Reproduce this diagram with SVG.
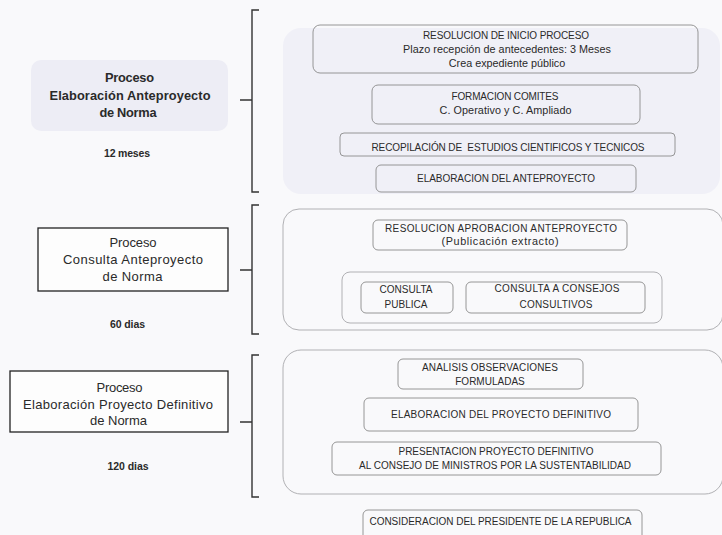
<svg xmlns="http://www.w3.org/2000/svg" width="722" height="535" viewBox="0 0 722 535">
<style>
text{font-family:"Liberation Sans",Arial,sans-serif;fill:#2a2a2a;text-anchor:middle}
.b{font-size:10px}
.m{font-size:10.8px}
.t{font-size:13px}
.tb{font-size:12.8px;font-weight:bold}
.d{font-size:10.5px;font-weight:bold}
.box{fill:none;stroke:#8a8a8a;stroke-width:0.9}
.cont{fill:none;stroke:#a8a8ac;stroke-width:0.9}
.dark{fill:#fdfdfd;stroke:#222;stroke-width:1.3}
.br{fill:none;stroke:#333;stroke-width:1.4}
</style>
<rect width="722" height="535" fill="#f9f9fb"/>
<rect x="283" y="28" width="437" height="166" rx="18" fill="#f0f0f7"/>
<g id="process1">
<rect x="31" y="60" width="197" height="71" rx="10" fill="#ededf5"/>
<text class="tb" x="129.5" y="82" textLength="49">Proceso</text>
<text class="tb" x="130" y="99.5" textLength="161">Elaboración Anteproyecto</text>
<text class="tb" x="128" y="116.5" textLength="57">de Norma</text>
<text class="d" x="127" y="157" textLength="46">12 meses</text>
</g>
<g id="process2">
<rect class="dark" x="38" y="228" width="190" height="63"/>
<text class="t" x="133" y="247" textLength="47">Proceso</text>
<text class="t" x="133" y="264" textLength="140">Consulta Anteproyecto</text>
<text class="t" x="132.5" y="281" textLength="60">de Norma</text>
<text class="d" x="127.5" y="328" textLength="35">60 dias</text>
</g>
<g id="process3">
<rect class="dark" x="10" y="371" width="218" height="61"/>
<text class="t" x="119.5" y="392" textLength="46">Proceso</text>
<text class="t" x="118" y="408.5" textLength="190">Elaboración Proyecto Definitivo</text>
<text class="t" x="118.5" y="425" textLength="57">de Norma</text>
<text class="d" x="128" y="470" textLength="41">120 dias</text>
</g>
<g id="connectors">
<path class="br" d="M259 10 H252 V192 H259 M240 100 H252"/>
<path class="br" d="M259 205 H252 V334 H259 M240 270 H252"/>
<path class="br" d="M259 355 H252 V497 H259 M240 422 H252"/>
</g>
<g id="group2">
<rect class="cont" x="283" y="209" width="440" height="121" rx="16"/>
<rect class="cont" x="342" y="272" width="320" height="51" rx="8"/>
</g>
<g id="group3">
<rect class="cont" x="283" y="350" width="440" height="144" rx="18"/>
</g>
<g id="n1">
<rect class="box" x="313" y="25" width="385" height="48" rx="7"/>
<text class="b" x="506" y="39" textLength="166">RESOLUCION DE INICIO PROCESO</text>
<text class="m" x="507" y="53" textLength="208">Plazo recepción de antecedentes: 3 Meses</text>
<text class="m" x="507" y="67">Crea expediente público</text>
</g>
<g id="n2">
<rect class="box" x="372" y="85" width="268" height="39" rx="6"/>
<text class="b" x="505" y="100" textLength="107">FORMACION COMITES</text>
<text class="m" x="505.5" y="113.5" textLength="132">C. Operativo y C. Ampliado</text>
</g>
<g id="n3">
<rect class="box" x="340" y="133" width="335" height="23" rx="4"/>
<text class="b" x="508" y="150.5" textLength="273" xml:space="preserve">RECOPILACIÓN DE  ESTUDIOS CIENTIFICOS Y TECNICOS</text>
</g>
<g id="n4">
<rect class="box" x="376" y="165" width="260" height="27" rx="5"/>
<text class="b" x="506" y="181.5" textLength="178">ELABORACION DEL ANTEPROYECTO</text>
</g>
<g id="n5">
<rect class="box" x="373" y="220" width="254" height="30" rx="5"/>
<text class="b" x="501" y="231.5" textLength="232">RESOLUCION APROBACION ANTEPROYECTO</text>
<text class="m" x="500" y="245" textLength="117">(Publicación extracto)</text>
</g>
<g id="n6">
<rect class="box" x="361" y="282" width="92" height="31" rx="5"/>
<text class="b" x="406" y="293">CONSULTA</text>
<text class="b" x="406" y="308">PUBLICA</text>
</g>
<g id="n7">
<rect class="box" x="466" y="282" width="179" height="31" rx="5"/>
<text class="b" x="557" y="292" textLength="125">CONSULTA A CONSEJOS</text>
<text class="b" x="556" y="308" textLength="73">CONSULTIVOS</text>
</g>
<g id="n8">
<rect class="box" x="398" y="359" width="185" height="30" rx="5"/>
<text class="b" x="490" y="371" textLength="136">ANALISIS OBSERVACIONES</text>
<text class="b" x="490" y="385">FORMULADAS</text>
</g>
<g id="n9">
<rect class="box" x="364" y="398" width="274" height="33" rx="5"/>
<text class="b" x="501" y="418" textLength="220">ELABORACION DEL PROYECTO DEFINITIVO</text>
</g>
<g id="n10">
<rect class="box" x="332" y="442" width="329" height="33" rx="5"/>
<text class="b" x="496" y="455" textLength="195">PRESENTACION PROYECTO DEFINITIVO</text>
<text class="b" x="495" y="469" textLength="272">AL CONSEJO DE MINISTROS POR LA SUSTENTABILIDAD</text>
</g>
<g id="n11">
<rect class="box" x="363" y="510" width="279" height="30" rx="5"/>
<text class="b" x="500.5" y="525" textLength="262">CONSIDERACION DEL PRESIDENTE DE LA REPUBLICA</text>
</g>
</svg>
